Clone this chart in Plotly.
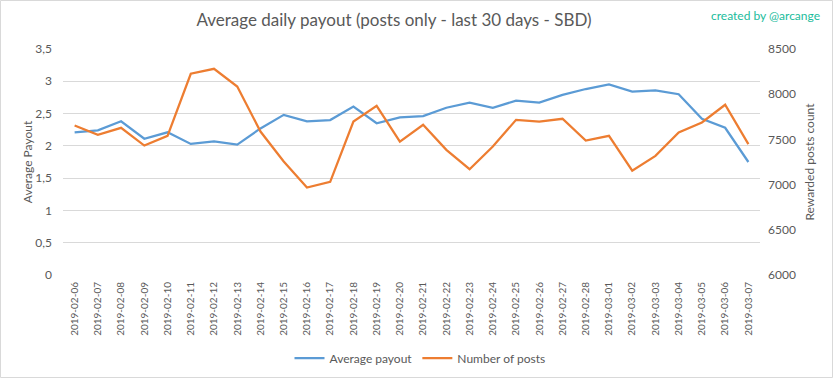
import plotly.graph_objects as go

dates = ["2019-02-06", "2019-02-07", "2019-02-08", "2019-02-09", "2019-02-10",
         "2019-02-11", "2019-02-12", "2019-02-13", "2019-02-14", "2019-02-15",
         "2019-02-16", "2019-02-17", "2019-02-18", "2019-02-19", "2019-02-20",
         "2019-02-21", "2019-02-22", "2019-02-23", "2019-02-24", "2019-02-25",
         "2019-02-26", "2019-02-27", "2019-02-28", "2019-03-01", "2019-03-02",
         "2019-03-03", "2019-03-04", "2019-03-05", "2019-03-06", "2019-03-07"]

avg_payout = [2.21, 2.24, 2.38, 2.11, 2.21, 2.03, 2.07, 2.02, 2.27, 2.48,
              2.38, 2.40, 2.61, 2.35, 2.44, 2.46, 2.59, 2.67, 2.59, 2.70,
              2.67, 2.79, 2.88, 2.95, 2.84, 2.86, 2.80, 2.42, 2.28, 1.75]

num_posts = [7653, 7550, 7628, 7432, 7539, 8226, 8281, 8085, 7587, 7255,
             6967, 7030, 7698, 7872, 7476, 7661, 7384, 7170, 7421, 7716,
             7698, 7728, 7487, 7539, 7155, 7318, 7576, 7687, 7883, 7447]

W, H = 833, 379
L, R, T, B = 63, 73, 49, 104
pw, ph = W - L - R, H - T - B

FONT = "Lato"
GRAY = "#595959"
GRID = "#D9D9D9"

fig = go.Figure()
fig.add_trace(go.Scatter(x=dates, y=avg_payout, name="Average payout", mode="lines",
                         line=dict(color="#5B9BD5", width=2.25), yaxis="y"))
fig.add_trace(go.Scatter(x=dates, y=num_posts, name="Number of posts", mode="lines",
                         line=dict(color="#ED7D31", width=2.25), yaxis="y2"))

fig.update_layout(
    width=W, height=H,
    margin=dict(l=L, r=R, t=T, b=B, autoexpand=False),
    paper_bgcolor="white", plot_bgcolor="white",
    separators=", ",
    font=dict(family=FONT, color=GRAY, size=11),
    title=dict(text="Average daily payout (posts only - last 30 days - SBD)",
               x=394 / W, xanchor="center", xref="container",
               y=1 - 20 / H, yanchor="middle", yref="container",
               font=dict(family=FONT, size=17, color=GRAY)),
    xaxis=dict(type="category", tickangle=-90, showgrid=False, showline=False,
               ticks="", tickfont=dict(size=10, color=GRAY), ticklabelstandoff=4,
               range=[-0.5, len(dates) - 0.5]),
    yaxis=dict(range=[0, 3.5], dtick=0.5, showgrid=True, gridcolor=GRID, gridwidth=1,
               zeroline=False, showline=False, ticks="", tickfont=dict(size=12, color=GRAY),
               ticklabelstandoff=10,
               title=dict(text="Average Payout", font=dict(size=12, color=GRAY), standoff=0)),
    yaxis2=dict(range=[6000, 8500], dtick=500, overlaying="y", side="right",
                showgrid=False, zeroline=False, showline=False, ticks="", tickformat="d",
                tickfont=dict(size=12, color=GRAY), ticklabelstandoff=7,
                title=dict(text="Rewarded posts count", font=dict(size=12, color=GRAY), standoff=10)),
    legend=dict(orientation="h", x=(420 - L) / pw, xanchor="center",
                y=-(358 - (T + ph)) / ph, yanchor="middle",
                font=dict(size=12, color=GRAY), bgcolor="rgba(0,0,0,0)"),
    showlegend=True,
)

fig.add_annotation(text="created by @arcange", xref="paper", yref="paper",
                   x=(822 - L) / pw, xanchor="right", y=1 + (T - 15) / ph, yanchor="middle",
                   showarrow=False, font=dict(family=FONT, size=12, color="#1ABC9C"))

# outer border of the picture
fig.add_shape(type="rect", xref="paper", yref="paper",
              x0=(0.5 - L) / pw, x1=(W - 0.5 - L) / pw,
              y0=-(H - 1.5 - T - ph) / ph, y1=1 + (T - 0.5) / ph,
              line=dict(color=GRID, width=1), fillcolor="rgba(0,0,0,0)", layer="below")

fig.write_html("out.html", config={"displayModeBar": False},
               post_script="document.body.style.margin='0';document.body.style.overflow='hidden';")
